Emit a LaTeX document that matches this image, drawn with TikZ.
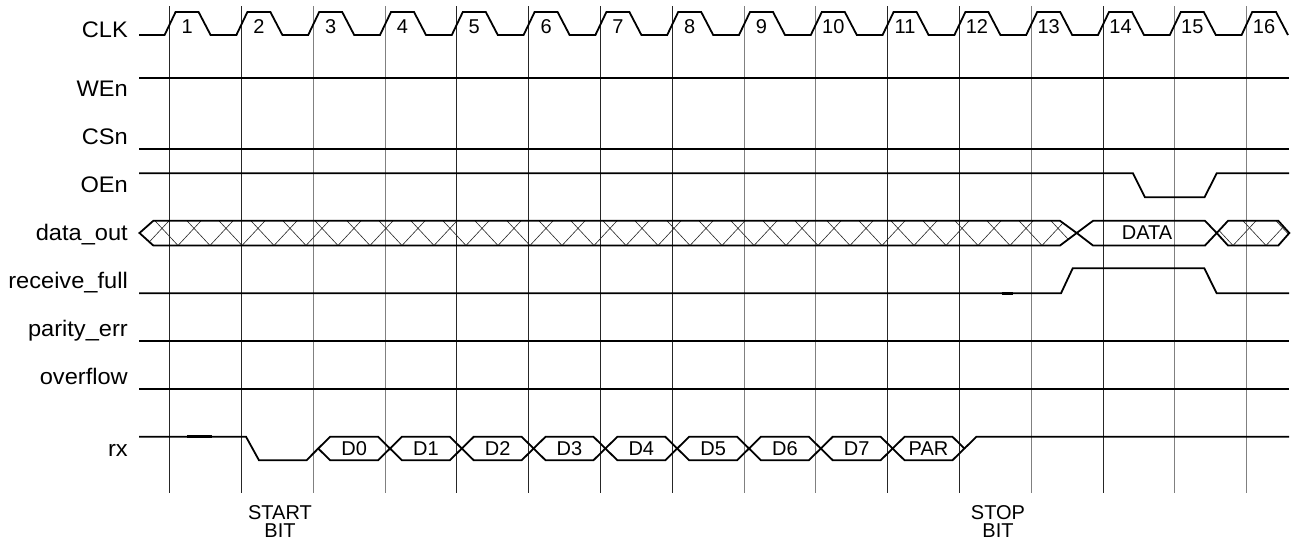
\documentclass[tikz,border=0pt]{standalone}
\usepackage{fontspec}
\setmainfont{Liberation Sans}
\begin{document}
\begin{tikzpicture}[x=1pt,y=-1pt,
  sig/.style={line width=1.8pt, line join=miter},
  gridk/.style={line width=0.9pt, black!85},
  gridg/.style={line width=0.9pt, black!50},
  hatch/.style={line width=0.6pt, black!85},
  lab/.style={anchor=base east, inner sep=0pt, font=\fontsize{22.5}{26}\selectfont},
  txt/.style={anchor=base, inner sep=0pt, font=\fontsize{20}{22}\selectfont},
  glitch/.style={line width=2.6pt},
]
\useasboundingbox (0,0) rectangle (1298,544);
% grid lines
\foreach \k in {1,2,5,6,7,8,11,12,14}
  \draw[gridk] ({169.6+71.8*(\k-1)},6) coordinate (gt\k) -- ++(0,487) coordinate (gb\k);
\foreach \k in {3,4,9,10,13,15,16}
  \draw[gridg] ({169.6+71.8*(\k-1)},6) coordinate (gt\k) -- ++(0,487) coordinate (gb\k);

% labels
\node[lab] (lclk) at (128,37) {\scalebox{1.05}[1]{CLK}};
\node[lab] (lwen) at (128,96.5) {\scalebox{1.05}[1]{WEn}};
\node[lab] (lcsn) at (128,144.5) {\scalebox{1.05}[1]{CSn}};
\node[lab] (loen) at (128,192.5) {\scalebox{1.05}[1]{OEn}};
\node[lab] (ldo) at (128,240) {\scalebox{1.05}[1]{data\_out}};
\node[lab] (lrf) at (128,288) {\scalebox{1.05}[1]{receive\_full}};
\node[lab] (lpe) at (128,336) {\scalebox{1.05}[1]{parity\_err}};
\node[lab] (lov) at (128,384) {\scalebox{1.05}[1]{overflow}};
\node[lab] (lrx) at (128,456) {\scalebox{1.05}[1]{rx}};

% CLK
\draw[sig] (139,35) foreach \k in {1,...,15} {
  -- ({169.6+71.8*(\k-1)-5},35) -- ({169.6+71.8*(\k-1)+6},12)
  -- ({169.6+71.8*(\k-1)+29},12) -- ({169.6+71.8*(\k-1)+41},35) }
  -- (1241.6,35) -- (1252.2,12) -- (1276,12) -- (1288,35);
\foreach \k in {1,...,16}
  \node[txt] (n\k) at ({169.6+71.8*(\k-1)+17.5},33) {\k};

% WEn, CSn
\draw[sig] (139,77.7) -- (1289,77.7);
\draw[sig] (139,149.3) -- (1289,149.3);
% OEn
\draw[sig] (139,173.3) -- (1133,173.3) -- (1145,197.3) -- (1204.5,197.3) -- (1216.7,173.3) -- (1289,173.3);

% data_out
\begin{scope}
  \clip (139.5,233) -- (153.3,220.8) -- (1060,220.8) -- (1076.7,233) -- (1060,245.5) -- (153.3,245.5) -- cycle;
  \foreach \k in {-1,...,29}
    \draw[hatch] ({178+32*\k-23},220.8) -- ({178+32*\k},245.5) -- ({178+32*\k+23},220.8);
\end{scope}
\begin{scope}
  \clip (1216.7,233) -- (1228,220.8) -- (1278.3,220.8) -- (1289.3,233) -- (1278.3,245.5) -- (1228,245.5) -- cycle;
  \foreach \k in {-1,...,2}
    \draw[hatch] ({1233+33*\k-23},220.8) -- ({1233+33*\k},245.5) -- ({1233+33*\k+23},220.8);
\end{scope}
\draw[sig] (139.5,233) -- (153.3,220.8) -- (1060,220.8) -- (1076.7,233) -- (1060,245.5) -- (153.3,245.5) -- cycle;
\draw[sig] (1076.7,233) -- (1093,220.8) -- (1205,220.8) -- (1216.7,233) -- (1205,245.5) -- (1093,245.5) -- cycle;
\draw[sig] (1216.7,233) -- (1228,220.8) -- (1278.3,220.8) -- (1289.3,233) -- (1278.3,245.5) -- (1228,245.5) -- cycle;
\node[txt] (data) at (1147,239.3) {DATA};

% receive_full
\draw[sig] (139,293.3) -- (1061,293.3) -- (1072.7,268.3) -- (1204.3,268.3) -- (1216.7,293.3) -- (1289,293.3);
\draw[glitch] (1001.7,293.3) -- (1013,293.3);

% parity_err, overflow
\draw[sig] (139,341) -- (1289,341);
\draw[sig] (139,389) -- (1289,389);

% rx
\draw[sig] (139,436.7) -- (246,436.7) -- (259,460.3) -- (306.5,460.3) -- (318.2,448.5);
\draw[glitch] (187,436.7) -- (212,436.7);
\foreach \k/\t in {3/D0,4/D1,5/D2,6/D3,7/D4,8/D5,9/D6,10/D7,11/PAR} {
  \pgfmathsetmacro{\ca}{169.6+71.8*(\k-1)+5}
  \pgfmathsetmacro{\cb}{\ca+71.8}
  \draw[sig] (\ca,448.5) -- ({\ca+12},436.7) -- ({\cb-12},436.7) -- (\cb,448.5)
    -- ({\cb-12},460.3) -- ({\ca+12},460.3) -- cycle;
  \node[txt] (b\k) at ({(\ca+\cb)/2},455) {\t};
}
\draw[sig] (964.4,448.5) -- (976.5,436.7) -- (1289,436.7);

% bottom labels
\node[txt] (start) at (280,519.3) {START};
\node[txt] (startb) at (280,537.3) {BIT};
\node[txt] (stop) at (998,519.3) {STOP};
\node[txt] (stopb) at (998,537.3) {BIT};
\end{tikzpicture}
\end{document}
